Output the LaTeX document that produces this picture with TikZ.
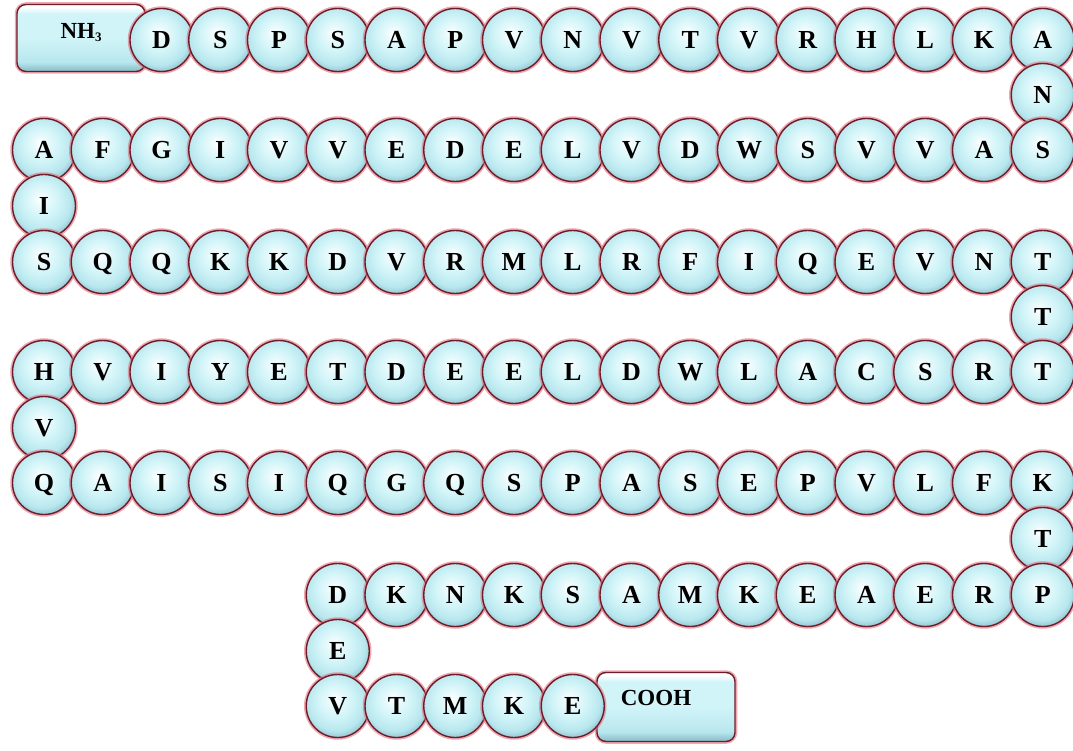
\documentclass[tikz,border=0pt]{standalone}
\usepackage{fontspec}
\setmainfont{Liberation Serif}
\definecolor{rimcol}{RGB}{110,28,42}
\definecolor{glowcol}{RGB}{228,110,124}
\definecolor{cyA}{RGB}{208,244,248}
\definecolor{cyB}{RGB}{184,231,238}
\definecolor{cyC}{RGB}{140,192,205}
\pgfdeclareradialshading{pearl}{\pgfpoint{-3bp}{6bp}}{color(0bp)=(white); color(6bp)=(white!50!cyA); color(14bp)=(cyA); color(23bp)=(cyB); color(29bp)=(cyC); color(50bp)=(cyC)}
\pgfdeclareverticalshading{slab}{100bp}{color(0bp)=(cyC); color(26bp)=(cyC); color(32bp)=(cyB); color(50bp)=(cyA); color(68bp)=(cyA); color(73bp)=(white); color(100bp)=(white)}
\tikzset{
  bead/.style={circle, minimum size=63pt, inner sep=0pt, draw=rimcol, line width=1.4pt,
    shade, shading=pearl, text height=17pt, text depth=0pt,
    preaction={draw=glowcol, line width=4.5pt, opacity=0.6},
    font=\fontsize{26}{26}\selectfont\bfseries},
  capbox/.style={rectangle, rounded corners=9pt, inner sep=0pt, draw=rimcol, line width=1.4pt,
    shade, shading=slab,
    preaction={draw=glowcol, line width=4.5pt, opacity=0.6},
    font=\fontsize{23}{23}\selectfont\bfseries}
}
\begin{document}
\begin{tikzpicture}[x=1pt,y=-1pt]
\useasboundingbox (0,0) rectangle (1073,751);
% end caps
\node[capbox, minimum width=128pt, minimum height=67pt] (nh) at (81,38)
  {\raisebox{5pt}[\height][\depth]{\fontsize{23}{23}\selectfont NH\raisebox{-3pt}{\fontsize{13}{13}\selectfont 3}}};
\node[capbox, minimum width=138pt, minimum height=69pt] (cooh) at (666,707)
  {\raisebox{9pt}[\height][\depth]{\hspace*{-20pt}COOH}};
% row 1
\foreach \L [count=\i from 2] in {D,S,P,S,A,P,V,N,V,T,V,R,H,L,K,A}
  \node[bead] (a\i) at ({44+58.75*\i},40) {\L};
\node[bead] (t1) at ({44+58.75*17},95) {N};
% row 2
\foreach \L [count=\i from 0] in {A,F,G,I,V,V,E,D,E,L,V,D,W,S,V,V,A,S}
  \node[bead] (b\i) at ({44+58.75*\i},150) {\L};
\node[bead] (t2) at (44,206) {I};
% row 3
\foreach \L [count=\i from 0] in {S,Q,Q,K,K,D,V,R,M,L,R,F,I,Q,E,V,N,T}
  \node[bead] (c\i) at ({44+58.75*\i},262) {\L};
\node[bead] (t3) at ({44+58.75*17},317) {T};
% row 4
\foreach \L [count=\i from 0] in {H,V,I,Y,E,T,D,E,E,L,D,W,L,A,C,S,R,T}
  \node[bead] (d\i) at ({44+58.75*\i},372) {\L};
\node[bead] (t4) at (44,428) {V};
% row 5
\foreach \L [count=\i from 0] in {Q,A,I,S,I,Q,G,Q,S,P,A,S,E,P,V,L,F,K}
  \node[bead] (e\i) at ({44+58.75*\i},483) {\L};
\node[bead] (t5) at ({44+58.75*17},539) {T};
% row 6
\foreach \L [count=\i from 5] in {D,K,N,K,S,A,M,K,E,A,E,R,P}
  \node[bead] (f\i) at ({44+58.75*\i},595) {\L};
\node[bead] (t6) at ({44+58.75*5},651) {E};
% row 7
\foreach \L [count=\i from 5] in {V,T,M,K,E}
  \node[bead] (g\i) at ({44+58.75*\i},706) {\L};
\end{tikzpicture}
\end{document}
